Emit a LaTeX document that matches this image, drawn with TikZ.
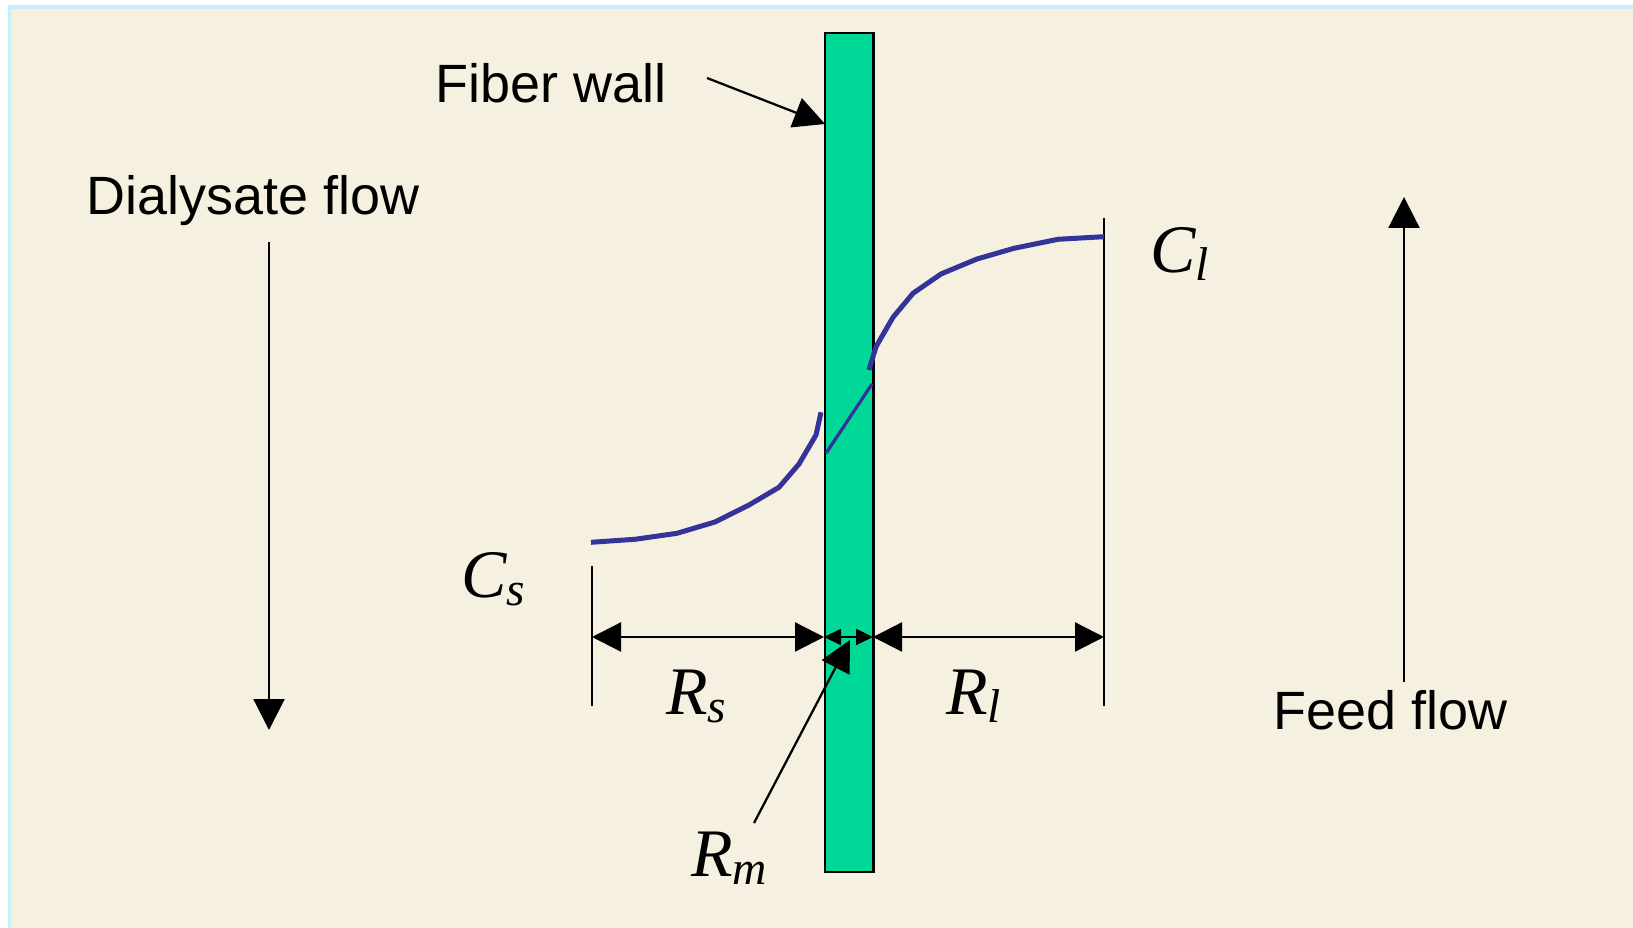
\documentclass[tikz,border=0pt]{standalone}
\usepackage{fontspec}
\setmainfont{Liberation Sans}
\newfontfamily\serifit{Liberation Serif}
\usetikzlibrary{arrows.meta}
\definecolor{cream}{HTML}{F5F0DF}
\definecolor{edgeblue}{HTML}{C8EEF8}
\definecolor{wallgreen}{HTML}{00D897}
\definecolor{curveblue}{HTML}{333399}
\newcommand{\mylab}[2]{{\serifit\itshape\fontsize{38.7}{40}\selectfont #1\raisebox{-0.16cm}{\fontsize{27}{28}\selectfont #2}}}
\tikzset{
  txt/.style={inner sep=0pt, anchor=base west, font=\fontsize{30.7}{36}\selectfont},
  mlab/.style={inner sep=0pt, anchor=base west},
  thin line/.style={line width=0.045cm, black},
  bigarrow/.style={thin line, -{Triangle[length=0.62cm,width=0.62cm]}},
  dimarrow/.style={thin line, {Triangle[length=0.58cm,width=0.58cm]}-{Triangle[length=0.58cm,width=0.58cm]}},
  smallarrow/.style={thin line, {Triangle[length=0.34cm,width=0.32cm]}-{Triangle[length=0.34cm,width=0.32cm]}},
  curve/.style={curveblue, line width=0.1cm, line join=round},
  innercurve/.style={curveblue, line width=0.065cm}
}
\begin{document}
\begin{tikzpicture}[x=0.02cm,y=-0.02cm]
\useasboundingbox (0,0) rectangle (1633,928);
\fill[white] (0,0) rectangle (1633,928);
\fill[edgeblue] (8,5) rectangle (1633,928);
\fill[cream] (11,9) rectangle (1633,928);

% vertical limit lines
\coordinate (ls1) at (592,566); \coordinate (ls2) at (592,706);
\coordinate (rl1) at (1104,218); \coordinate (rl2) at (1104,706);
\draw[thin line] (ls1) -- (ls2);
\draw[thin line] (rl1) -- (rl2);

% fiber wall
\node[draw=black, line width=0.05cm, fill=wallgreen, minimum width=0.97cm, minimum height=16.78cm, inner sep=0pt, anchor=north west] (wall) at (823.5,32) {};

% dimension arrows
\coordinate (dL) at (592,637);
\coordinate (dML) at (824,637);
\coordinate (dMR) at (873,637);
\coordinate (dR) at (1104,637);
\draw[dimarrow] (dL) -- (dML);
\draw[dimarrow] (dMR) -- (dR);
\draw[smallarrow] (dML) -- (dMR);

% concentration profile
\draw[curve] (591,542.3) -- (635,539.3) -- (677,533.3) -- (715,522) -- (749,505) -- (779,487.3) -- (799,464) -- (816,435) -- (821,412.3);
\draw[innercurve] (826,453.3) -- (872,384);
\draw[curve] (869,370) -- (876,346.7) -- (893,317.3) -- (913,293.3) -- (941,274) -- (977,259) -- (1014,248.3) -- (1058,239.3) -- (1104,236.7);

% texts
\node[txt] (fw) at (435,103) {Fiber wall};
\node[txt] (dial) at (86,215) {Dialysate flow};
\node[txt] (feed) at (1273,729) {Feed flow};

\node[mlab] (cs) at (461,598) {\mylab{C}{s}};
\node[mlab] (rs) at (666,715) {\mylab{R}{s}};
\node[mlab] (rl) at (946,715) {\mylab{R}{l}};
\node[mlab] (rm) at (691,876) {\mylab{R}{m}};
\node[mlab] (cl) at (1150,273) {\mylab{C}{l}};

% flow arrows
\coordinate (d1) at (269,242); \coordinate (d2) at (269,730);
\draw[bigarrow] (d1) -- (d2);
\coordinate (f1) at (1404,682); \coordinate (f2) at (1404,197);
\draw[bigarrow] (f1) -- (f2);

% pointers
\coordinate (fwA) at (707,78); \coordinate (fwB) at (825,124);
\draw[bigarrow] (fwA) -- (fwB);
\coordinate (rmA) at (754,823); \coordinate (rmB) at (850,640);
\draw[bigarrow] (rmA) -- (rmB);
\end{tikzpicture}
\end{document}
